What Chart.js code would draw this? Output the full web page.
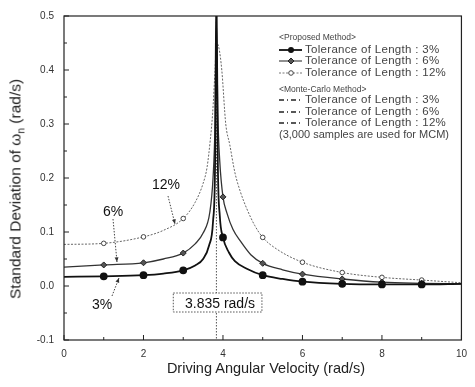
<!DOCTYPE html>
<html>
<head>
<meta charset="utf-8">
<script src="https://cdn.jsdelivr.net/npm/chart.js@4.4.1/dist/chart.umd.min.js"></script>
<style>
  html, body { margin: 0; padding: 0; background: #fff; }
  #wrap { position: relative; width: 475px; height: 387px; font-family: "Liberation Sans", Arial, sans-serif; color: #333; }
  canvas { position: absolute; left: 0; top: 0; }
  .t { position: absolute; font-size: 11.5px; letter-spacing: 0.3px; white-space: nowrap; line-height: 1; transform: translateY(-50%); color: #444; }
  .h { font-size: 8.5px; letter-spacing: 0; }
  .lab { position: absolute; font-size: 14px; color: #111; white-space: nowrap; line-height: 1; transform: translate(-50%, -50%); }
  .ax { position: absolute; font-size: 14.5px; color: #222; white-space: nowrap; line-height: 1; }
</style>
</head>
<body>
<div id="wrap">
  <canvas id="chart" width="475" height="387"></canvas>

  <div class="t h" style="left:279px;top:37px">&lt;Proposed Method&gt;</div>
  <div class="t" style="left:305px;top:50px">Tolerance of Length : 3%</div>
  <div class="t" style="left:305px;top:61px">Tolerance of Length : 6%</div>
  <div class="t" style="left:305px;top:73px">Tolerance of Length : 12%</div>
  <div class="t h" style="left:279px;top:89px">&lt;Monte-Carlo Method&gt;</div>
  <div class="t" style="left:305px;top:100px">Tolerance of Length : 3%</div>
  <div class="t" style="left:305px;top:112px">Tolerance of Length : 6%</div>
  <div class="t" style="left:305px;top:123px">Tolerance of Length : 12%</div>
  <div class="t" style="left:279px;top:134px;font-size:11px;letter-spacing:0">(3,000 samples are used for MCM)</div>

  <div class="lab" style="left:166px;top:184px">12%</div>
  <div class="lab" style="left:113px;top:211px">6%</div>
  <div class="lab" style="left:102px;top:304px">3%</div>
  <div class="lab" style="left:220px;top:303px">3.835 rad/s</div>

  <div class="ax" style="left:266px;top:368px;transform:translate(-50%,-50%)">Driving Angular Velocity (rad/s)</div>
  <div class="ax" style="left:17px;top:189px;font-size:15.5px;transform:translate(-50%,-50%) rotate(-90deg)">Standard Deviation of ω<sub style="font-size:10px">n</sub> (rad/s)</div>
</div>

<script>
// values (x = driving angular velocity, rad/s)
const omega3 = [0, 1, 2, 2.5, 3, 3.3, 3.5, 3.65, 3.75, 3.8, 3.835, 3.87, 3.92, 4, 4.15, 4.3, 4.6, 5, 5.5, 6, 7, 8, 9, 10];
const sd3    = [0.017, 0.018, 0.02, 0.023, 0.029, 0.038, 0.05, 0.075, 0.12, 0.22, 0.56, 0.23, 0.13, 0.09, 0.062, 0.046, 0.032, 0.02, 0.013, 0.008, 0.004, 0.003, 0.003, 0.004];

const omega6 = [0, 1, 2, 2.5, 3, 3.3, 3.5, 3.67, 3.75, 3.8, 3.835, 3.87, 3.92, 4, 4.1, 4.25, 4.45, 4.7, 5, 5.5, 6, 7, 8, 9, 10];
const sd6    = [0.035, 0.039, 0.043, 0.05, 0.061, 0.078, 0.098, 0.137, 0.2, 0.3, 0.49, 0.32, 0.23, 0.165, 0.135, 0.105, 0.082, 0.058, 0.042, 0.03, 0.022, 0.013, 0.007, 0.005, 0.004];

const omega12 = [0, 1, 2, 2.5, 3, 3.3, 3.5, 3.6, 3.68, 3.74, 3.8, 3.835, 3.9, 3.97, 4.07, 4.17, 4.3, 4.44, 4.6, 4.8, 5, 5.36, 6, 7, 8, 9, 10];
const sd12    = [0.077, 0.079, 0.091, 0.103, 0.125, 0.155, 0.19, 0.22, 0.27, 0.32, 0.4, 0.45, 0.44, 0.4, 0.3, 0.262, 0.21, 0.174, 0.143, 0.112, 0.09, 0.068, 0.044, 0.025, 0.016, 0.011, 0.006];

const peakOmega = 3.835;
const xTicks = [0, 2, 4, 6, 8, 10];
const yTicks = [-0.1, 0.0, 0.1, 0.2, 0.3, 0.4, 0.5];

const toPoints = (xs, ys) => xs.map((x, i) => ({ x, y: ys[i] }));

// only mark the integer omegas, like the original
const markAt = (r) => (c) => {
  const v = c.raw && c.raw.x;
  return (Number.isInteger(v) && v > 0 && v < 10) ? r : 0;
};

function drawMarker(ctx, kind, x, y) {
  ctx.save();
  ctx.setLineDash([]);
  if (kind === 'dot') {
    ctx.fillStyle = '#111';
    ctx.beginPath(); ctx.arc(x, y, 3, 0, Math.PI * 2); ctx.fill();
  } else if (kind === 'diamond') {
    ctx.fillStyle = '#555'; ctx.strokeStyle = '#222'; ctx.lineWidth = 1;
    ctx.beginPath(); ctx.moveTo(x, y - 3); ctx.lineTo(x + 3, y); ctx.lineTo(x, y + 3); ctx.lineTo(x - 3, y); ctx.closePath();
    ctx.fill(); ctx.stroke();
  } else {
    ctx.fillStyle = '#fff'; ctx.strokeStyle = '#444'; ctx.lineWidth = 1;
    ctx.beginPath(); ctx.arc(x, y, 2.3, 0, Math.PI * 2); ctx.fill(); ctx.stroke();
  }
  ctx.restore();
}

function arrow(ctx, x1, y1, x2, y2) {
  ctx.save();
  ctx.strokeStyle = '#444'; ctx.fillStyle = '#333'; ctx.lineWidth = 1;
  ctx.setLineDash([1.5, 1.5]);
  ctx.beginPath(); ctx.moveTo(x1, y1); ctx.lineTo(x2, y2); ctx.stroke();
  ctx.setLineDash([]);
  const a = Math.atan2(y2 - y1, x2 - x1);
  ctx.beginPath();
  ctx.moveTo(x2, y2);
  ctx.lineTo(x2 - 5 * Math.cos(a - 0.4), y2 - 5 * Math.sin(a - 0.4));
  ctx.lineTo(x2 - 5 * Math.cos(a + 0.4), y2 - 5 * Math.sin(a + 0.4));
  ctx.closePath(); ctx.fill();
  ctx.restore();
}

const decor = {
  id: 'decor',
  beforeDatasetsDraw(chart) {
    const { ctx, chartArea: a, scales: { x } } = chart;
    const px = x.getPixelForValue(peakOmega);
    ctx.save();
    ctx.strokeStyle = '#555'; ctx.lineWidth = 1; ctx.setLineDash([1.5, 1.5]);
    ctx.beginPath(); ctx.moveTo(px, a.top); ctx.lineTo(px, a.bottom); ctx.stroke();
    ctx.restore();
  },
  afterDraw(chart) {
    const { ctx, chartArea: a, scales: { x, y } } = chart;
    ctx.save();
    // frame
    ctx.strokeStyle = '#222'; ctx.lineWidth = 1.2;
    ctx.strokeRect(a.left, a.top, a.right - a.left, a.bottom - a.top);
    // inward ticks
    ctx.lineWidth = 1;
    ctx.beginPath();
    for (let v = 0; v <= 10; v++) {
      const px = x.getPixelForValue(v), len = v % 2 === 0 ? 5 : 3;
      ctx.moveTo(px, a.bottom); ctx.lineTo(px, a.bottom - len);
    }
    for (let k = -2; k <= 10; k++) {
      const py = y.getPixelForValue(k * 0.05), len = k % 2 === 0 ? 5 : 3;
      ctx.moveTo(a.left, py); ctx.lineTo(a.left + len, py);
    }
    ctx.stroke();

    // value box
    const bx = x.getPixelForValue(2.75), bx2 = x.getPixelForValue(4.98);
    ctx.fillStyle = '#fff';
    ctx.fillRect(bx, 293, bx2 - bx, 19);
    ctx.strokeStyle = '#555'; ctx.setLineDash([1.5, 1.5]);
    ctx.strokeRect(bx, 293, bx2 - bx, 19);

    // pointers for the curve labels
    arrow(ctx, 168, 196, 175, 224);
    arrow(ctx, 113, 219, 117, 262);
    arrow(ctx, 112, 296, 119, 278);

    // legend samples
    ctx.setLineDash([]);
    ctx.strokeStyle = '#111'; ctx.lineWidth = 1.8;
    ctx.beginPath(); ctx.moveTo(279, 50); ctx.lineTo(302, 50); ctx.stroke();
    drawMarker(ctx, 'dot', 291, 50);
    ctx.strokeStyle = '#444'; ctx.lineWidth = 1.2;
    ctx.beginPath(); ctx.moveTo(279, 61); ctx.lineTo(302, 61); ctx.stroke();
    drawMarker(ctx, 'diamond', 291, 61);
    ctx.strokeStyle = '#777'; ctx.lineWidth = 1; ctx.setLineDash([2, 1.5]);
    ctx.beginPath(); ctx.moveTo(279, 73); ctx.lineTo(302, 73); ctx.stroke();
    drawMarker(ctx, 'circle', 291, 73);
    ctx.strokeStyle = '#222'; ctx.lineWidth = 1.4; ctx.setLineDash([5, 3, 1, 3]);
    [100, 112, 123].forEach(yy => {
      ctx.beginPath(); ctx.moveTo(279, yy); ctx.lineTo(303, yy); ctx.stroke();
    });
    ctx.restore();
  }
};

new Chart(document.getElementById('chart'), {
  type: 'line',
  data: {
    datasets: [
      {
        label: 'Tolerance of Length : 3%',
        data: toPoints(omega3, sd3),
        borderColor: '#111', borderWidth: 1.8,
        pointStyle: 'circle', pointRadius: markAt(3),
        pointBackgroundColor: '#111', pointBorderColor: '#111',
        cubicInterpolationMode: 'monotone'
      },
      {
        label: 'Tolerance of Length : 6%',
        data: toPoints(omega6, sd6),
        borderColor: '#333', borderWidth: 1.3,
        pointStyle: 'rectRot', pointRadius: markAt(3),
        pointBackgroundColor: '#555', pointBorderColor: '#222', pointBorderWidth: 1,
        cubicInterpolationMode: 'monotone'
      },
      {
        label: 'Tolerance of Length : 12%',
        data: toPoints(omega12, sd12),
        borderColor: '#666', borderWidth: 1, borderDash: [2, 1.5],
        pointStyle: 'circle', pointRadius: markAt(2.3),
        pointBackgroundColor: '#fff', pointBorderColor: '#444', pointBorderWidth: 1,
        cubicInterpolationMode: 'monotone'
      }
    ]
  },
  options: {
    responsive: false,
    animation: false,
    layout: { padding: { left: 0, top: 12, right: 8, bottom: 0 } },
    plugins: { legend: { display: false }, tooltip: { enabled: false } },
    scales: {
      x: {
        type: 'linear', min: 0, max: 10,
        afterBuildTicks: (s) => { s.ticks = xTicks.map(v => ({ value: v })); },
        afterFit: (s) => { s.height = 47; },
        grid: { display: false, drawTicks: false },
        border: { display: false },
        ticks: { color: '#333', padding: 8, font: { family: 'Liberation Sans', size: 10 }, maxRotation: 0 },
        title: { display: false }
      },
      y: {
        min: -0.1, max: 0.5,
        afterBuildTicks: (s) => { s.ticks = yTicks.map(v => ({ value: v })); },
        afterFit: (s) => { s.width = 64; },
        grid: { display: false, drawTicks: false },
        border: { display: false },
        ticks: { color: '#333', padding: 10, font: { family: 'Liberation Sans', size: 10 }, callback: (v) => v.toFixed(1) },
        title: { display: false }
      }
    }
  },
  plugins: [decor]
});
</script>
</body>
</html>
